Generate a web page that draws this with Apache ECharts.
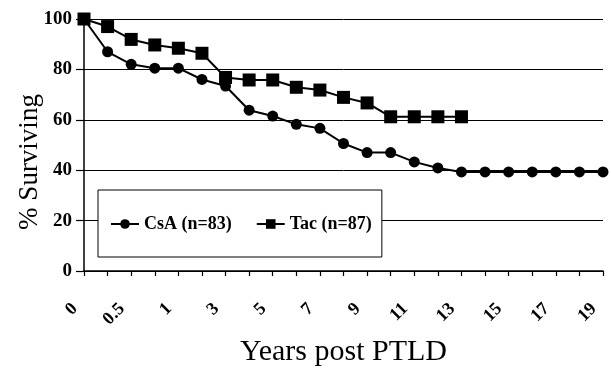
<!DOCTYPE html>
<html>
<head>
<meta charset="utf-8">
<script src="https://cdn.jsdelivr.net/npm/echarts@6/dist/echarts.min.js"></script>
<style>html,body{margin:0;padding:0;background:#fff}#c{width:611px;height:373px}</style>
</head>
<body>
<div id="c"></div>
<script>
var categories = ['0','0.25','0.5','0.75','1','2','3','4','5','6','7','8','9','10','11','12','13','14','15','16','17','18','19'];
var csaValues = [100, 87, 82, 80.5, 80.5, 76, 73.4, 63.8, 61.5, 58.2, 56.6, 50.6, 47, 47, 43.3, 40.9, 39.3, 39.3, 39.3, 39.3, 39.3, 39.3, 39.3];
var tacValues = [100, 97, 91.9, 89.7, 88.4, 86.4, 76.8, 75.8, 75.8, 72.9, 71.8, 68.9, 66.7, 61.2, 61.2, 61.2, 61.2];
var yTicks = [0, 20, 40, 60, 80, 100];
var seriesNames = ['CsA (n=83)', 'Tac (n=87)'];

var serif = '"Liberation Serif", "DejaVu Serif", serif';
var chart = echarts.init(document.getElementById('c'));
chart.setOption({
  animation: false,
  backgroundColor: '#fff',
  grid: { left: 84, right: 8, top: 19, bottom: 102, containLabel: false, outerBoundsMode: 'none' },
  legend: {
    left: 98, top: 190,
    padding: [25, 10, 24, 12],
    backgroundColor: '#fff',
    borderColor: '#000',
    borderWidth: 1,
    itemWidth: 28, itemHeight: 12, itemGap: 24,
    textStyle: { fontFamily: serif, fontWeight: 'bold', fontSize: 18, color: '#000' },
    data: seriesNames
  },
  xAxis: {
    type: 'category',
    data: categories,
    boundaryGap: false,
    axisLine: { lineStyle: { color: '#000', width: 1.5 } },
    axisTick: { show: true, interval: 0, length: 5, lineStyle: { color: '#000', width: 1.2 } },
    axisLabel: {
      interval: 1, rotate: 45, margin: 26, padding: [0, 13, 0, 0],
      fontFamily: serif, fontWeight: 'bold', fontSize: 18, color: '#000'
    },
    name: 'Years post PTLD',
    nameLocation: 'middle',
    nameGap: 66,
    nameMoveOverlap: false,
    nameTextStyle: { fontFamily: serif, fontSize: 30, color: '#000' }
  },
  yAxis: {
    type: 'value',
    min: yTicks[0], max: yTicks[yTicks.length - 1], interval: 20,
    axisLine: { show: true, lineStyle: { color: '#000', width: 1.5 } },
    axisTick: { show: true, length: 8, lineStyle: { color: '#000', width: 1.2 } },
    splitLine: { show: true, lineStyle: { color: '#000', width: 1 } },
    axisLabel: { margin: 12, fontFamily: serif, fontWeight: 'bold', fontSize: 19, color: '#000' },
    name: '% Surviving',
    nameLocation: 'middle',
    nameGap: 41,
    nameMoveOverlap: false,
    nameTextStyle: { fontFamily: serif, fontSize: 27, color: '#000', padding: [0, 34, 0, 0] }
  },
  series: [
    {
      name: seriesNames[0], type: 'line', data: csaValues,
      symbol: 'circle', symbolSize: 11, z: 3,
      lineStyle: { color: '#000', width: 2 },
      itemStyle: { color: '#000' }
    },
    {
      name: seriesNames[1], type: 'line', data: tacValues,
      symbol: 'rect', symbolSize: 13, z: 2,
      lineStyle: { color: '#000', width: 2 },
      itemStyle: { color: '#000' }
    }
  ]
});
</script>
</body>
</html>
